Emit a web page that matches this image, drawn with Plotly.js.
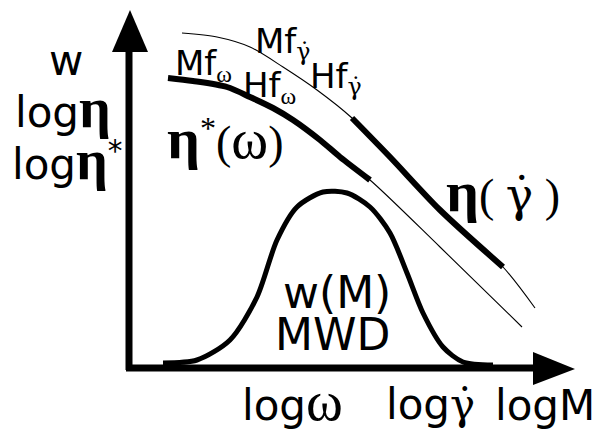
<!DOCTYPE html>
<html>
<head>
<meta charset="utf-8">
<script src="https://cdn.plot.ly/plotly-3.0.1.min.js"></script>
<style>html,body{margin:0;padding:0;background:#fff}</style>
</head>
<body>
<div id="chart" style="width:598px;height:432px"></div>
<script>
// Steady-shear viscosity curve eta(gamma-dot)
const etaShearX = [53, 88, 121, 154, 188, 223, 261, 311, 374, 406];
const etaShearY = [334, 330, 320, 300, 277, 249, 210, 157, 100, 59];
const etaShearThickFrom = 5, etaShearThickTo = 8;

// Complex viscosity curve eta*(omega)
const etaCplxX = [39, 64, 98, 121, 144, 164, 191, 211, 241, 311, 393];
const etaCplxY = [289, 286, 280, 270, 259, 247, 227, 210, 187, 120, 40];
const etaCplxThickFrom = 0, etaCplxThickTo = 8;

// Molecular weight distribution w(M)
const mwdX = [34, 68, 101, 128, 148, 168, 194, 218, 241, 261, 278, 294, 314, 334, 364];
const mwdY = [4, 7, 27, 70, 127, 160, 175, 174, 160, 134, 94, 54, 20, 5, 2];

// Axes (arrows)
const yAxisLineX = [0, 0], yAxisLineY = [-3, 318];
const yArrowX = [-17, 19, 1, -17], yArrowY = [315, 315, 357, 315];
const xAxisLineX = [-3, 406], xAxisLineY = [-1, -1];
const xArrowX = [404, 404, 446, 404], xArrowY = [15, -18, -2, 15];

const SERIF = "'Liberation Serif', 'DejaVu Serif', serif";
const SANS = "'DejaVu Sans', sans-serif";
const ser = t => `<span style="font-family:${SERIF}">${t}</span>`;
const etaBig = px => `<span style="font-family:${SERIF};font-weight:bold;font-size:${px}px">η</span>`;
const omegaBig = px => `<span style="font-family:${SERIF};font-size:${px}px">ω</span>`;
const gdot = `<span style="font-family:'DejaVu Serif'">γ\u0307</span>`;

const labels = [
  {text: 'w', x: -63, y: 307, size: 42},
  {text: 'log' + etaBig(56), x: -66, y: 259, size: 42},
  {text: 'log' + etaBig(56) + '<sup>*</sup>', x: -62, y: 207, size: 42},
  {text: 'Mf<sub>' + ser('ω') + '</sub>', x: 74, y: 302, size: 34},
  {text: 'Hf<sub>' + ser('ω') + '</sub>', x: 140, y: 280, size: 34},
  {text: 'Mf<sub>' + gdot + '</sub>', x: 154, y: 324, size: 34},
  {text: 'Hf<sub>' + gdot + '</sub>', x: 207, y: 289, size: 34},
  {text: ser(etaBig(58) + '<sup>*</sup>(' + omegaBig(56) + ')'), x: 96, y: 229, size: 46},
  {text: ser(etaBig(58) + '( ') + gdot + ser(' )'), x: 374, y: 176, size: 46},
  {text: 'w(M)', x: 208, y: 75, size: 44},
  {text: 'MWD', x: 203, y: 33, size: 44},
  {text: 'log' + omegaBig(56), x: 163, y: -34, size: 42},
  {text: 'log' + gdot, x: 301, y: -37, size: 42},
  {text: 'logM', x: 416, y: -38, size: 42}
];

function seg(xs, ys, a, b) { return [xs.slice(a, b + 1), ys.slice(a, b + 1)]; }
const [esx, esy] = seg(etaShearX, etaShearY, etaShearThickFrom, etaShearThickTo);
const [ecx, ecy] = seg(etaCplxX, etaCplxY, etaCplxThickFrom, etaCplxThickTo);

const line = (x, y, w, extra) => Object.assign({
  type: 'scatter', mode: 'lines', x, y, hoverinfo: 'skip', showlegend: false,
  line: {color: '#000', width: w, shape: 'spline', smoothing: 0.8}
}, extra || {});

const traces = [
  line(etaShearX, etaShearY, 1.1),
  line(esx, esy, 6),
  line(etaCplxX, etaCplxY, 1.1),
  line(ecx, ecy, 6),
  line(mwdX, mwdY, 5),
  line(yAxisLineX, yAxisLineY, 7, {line: {color: '#000', width: 7}}),
  line(xAxisLineX, xAxisLineY, 7, {line: {color: '#000', width: 7}}),
  line(yArrowX, yArrowY, 0, {fill: 'toself', fillcolor: '#000', line: {color: '#000', width: 0}}),
  line(xArrowX, xArrowY, 0, {fill: 'toself', fillcolor: '#000', line: {color: '#000', width: 0}})
];

const layout = {
  width: 598, height: 432,
  margin: {l: 0, r: 0, t: 0, b: 0},
  paper_bgcolor: '#fff', plot_bgcolor: '#fff',
  xaxis: {range: [-129, 469], visible: false, fixedrange: true},
  yaxis: {range: [-65, 367], visible: false, fixedrange: true},
  showlegend: false,
  font: {family: SANS, color: '#000'},
  annotations: labels.map(l => ({
    text: l.text, x: l.x, y: l.y, xref: 'x', yref: 'y', showarrow: false,
    xanchor: 'center', yanchor: 'middle', font: {size: l.size, family: SANS, color: '#000'}
  }))
};

Plotly.newPlot('chart', traces, layout, {staticPlot: true, displayModeBar: false});
</script>
</body>
</html>
